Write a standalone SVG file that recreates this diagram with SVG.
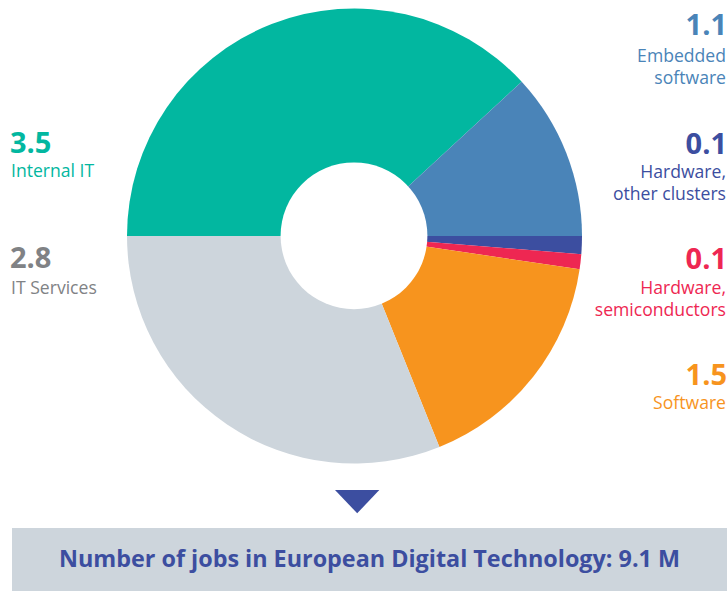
<svg xmlns="http://www.w3.org/2000/svg" width="727" height="591" viewBox="0 0 727 591">
<style>
.num{font-family:"Open Sans","Liberation Sans",sans-serif;font-weight:bold;font-size:29px}
.lbl{font-family:"Open Sans","Liberation Sans",sans-serif;font-size:17.6px}
.r{text-anchor:end}
</style>
<rect width="727" height="591" fill="#ffffff"/>
<g id="donut">
<path d="M354.5 236 L127 236 A227.5 227.5 0 0 1 521.7 81.7 Z" fill="#02B7A0"/>
<path d="M354.5 236 L521.7 81.7 A227.5 227.5 0 0 1 582 236 Z" fill="#4A84B8"/>
<path d="M354.5 236 L582 236 A227.5 227.5 0 0 1 581.3 254.2 Z" fill="#3C4EA0"/>
<path d="M354.5 236 L581.3 254.2 A227.5 227.5 0 0 1 579.6 269.2 Z" fill="#EE2752"/>
<path d="M354.5 236 L579.6 269.2 A227.5 227.5 0 0 1 439.4 447.1 Z" fill="#F7941E"/>
<path d="M354.5 236 L439.4 447.1 A227.5 227.5 0 0 1 127 236 Z" fill="#CDD5DC"/>
<circle cx="354" cy="235.8" r="73.4" fill="#ffffff"/>
</g>
<g id="label-internal-it" fill="#02B7A0">
<text class="num" x="10" y="152.5">3.5</text>
<text class="lbl" x="11" y="176.5">Internal IT</text>
</g>
<g id="label-it-services" fill="#808285">
<text class="num" x="10" y="267.5">2.8</text>
<text class="lbl" x="11" y="293.5">IT Services</text>
</g>
<g id="label-embedded" fill="#4A84B8">
<text class="num r" x="727" y="34.5">1.1</text>
<text class="lbl r" x="726" y="61.5">Embedded</text>
<text class="lbl r" x="726" y="84">software</text>
</g>
<g id="label-hw-other" fill="#3C4EA0">
<text class="num r" x="727" y="153.5">0.1</text>
<text class="lbl r" x="726" y="177.5">Hardware,</text>
<text class="lbl r" x="726" y="200">other clusters</text>
</g>
<g id="label-hw-semi" fill="#EE2752">
<text class="num r" x="727" y="268.5">0.1</text>
<text class="lbl r" x="726" y="293.5">Hardware,</text>
<text class="lbl r" x="726" y="316">semiconductors</text>
</g>
<g id="label-software" fill="#F7941E">
<text class="num r" x="727" y="384.5">1.5</text>
<text class="lbl r" x="726" y="408.5">Software</text>
</g>
<g id="connectors">
<path d="M335 490 L379.3 490 L357.2 513.3 Z" fill="#3C4EA0"/>
</g>
<g id="total">
<rect x="12" y="528" width="715" height="63" fill="#CDD5DC"/>
<text x="59" y="566.5" font-family="'Open Sans','Liberation Sans',sans-serif" font-weight="bold" font-size="22.5" fill="#3C4EA0" textLength="621" lengthAdjust="spacingAndGlyphs">Number of jobs in European Digital Technology: 9.1 M</text>
</g>
</svg>
